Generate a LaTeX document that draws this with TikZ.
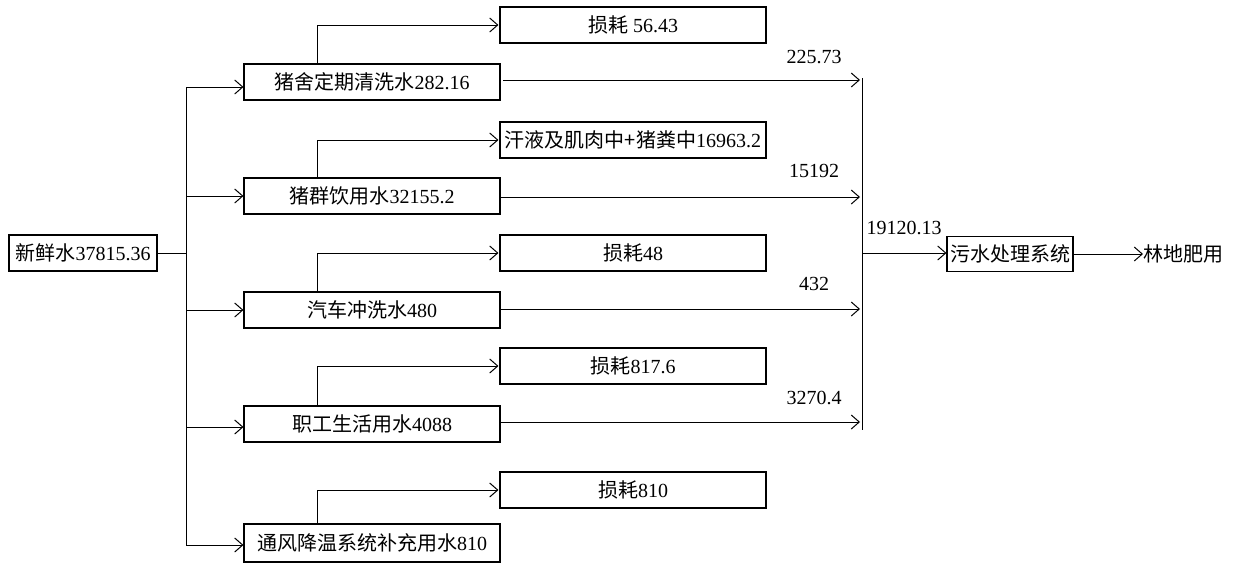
\documentclass[tikz,border=0pt]{standalone}
\usepackage{fontspec}
\setmainfont{Liberation Serif}
\newfontfamily\cjk{Noto Sans CJK SC}
\usetikzlibrary{arrows.meta}
\begin{document}
\begin{tikzpicture}[x=1pt,y=-1pt,
  box/.style={draw, line width=1.1pt, inner sep=0pt, minimum height=36pt, font=\fontsize{20}{22}\selectfont},
  midbox/.style={box, minimum width=256pt},
  lossbox/.style={box, minimum width=266pt},
  ln/.style={line width=1pt},
  arr/.style={line width=1pt, -{Straight Barb[length=8pt,width=14pt,line width=1pt]}},
  lbl/.style={font=\fontsize{20}{22}\selectfont, inner sep=0pt}]
\useasboundingbox (0,0) rectangle (1238,563);

% source
\node[box, minimum width=148pt] (fresh) at (83,253) {{\cjk 新鲜水}37815.36};

% middle boxes
\node[midbox] (m1) at (372,82) {{\cjk 猪舍定期清洗水}282.16};
\node[midbox] (m2) at (372,196) {{\cjk 猪群饮用水}32155.2};
\node[midbox] (m3) at (372,310) {{\cjk 汽车冲洗水}480};
\node[midbox] (m4) at (372,424) {{\cjk 职工生活用水}4088};
\node[midbox, minimum height=38pt] (m5) at (372,543) {{\cjk 通风降温系统补充用水}810};

% loss boxes
\node[lossbox] (l1) at (633,25) {{\cjk 损耗}\ 56.43};
\node[lossbox] (l2) at (633,140) {{\cjk 汗液及肌肉中+猪粪中}16963.2};
\node[lossbox] (l3) at (633,253) {{\cjk 损耗}48};
\node[lossbox] (l4) at (633,366) {{\cjk 损耗}817.6};
\node[lossbox] (l5) at (633,490) {{\cjk 损耗}810};

% sewage
\node[box, minimum width=126pt, minimum height=35pt] (sew) at (1010,254) {\cjk 污水处理系统};
\node[lbl, anchor=west] (use) at (1143,254) {\cjk 林地肥用};

% bus coordinates
\coordinate (b0) at (186,253);
\coordinate (btop) at (186,87);
\coordinate (bbot) at (186,545);
\coordinate (b1) at (186,87);
\coordinate (b2) at (186,196);
\coordinate (b3) at (186,310);
\coordinate (b4) at (186,427);
\coordinate (b5) at (186,545);

\draw[ln] (fresh.east) -- (b0);
\draw[ln] (btop) -- (bbot);
\foreach \i in {1,...,5} {
  \draw[arr] (b\i) -- (b\i -| m\i.west);
}

% loss branches
\foreach \i in {1,...,5} {
  \draw[arr] ([xshift=-55pt]m\i.north) |- ([xshift=-1pt]l\i.west);
}

% collector
\coordinate (ctop) at (862,78);
\coordinate (cbot) at (862,430);
\coordinate (cmid) at (862,253);
\draw[ln] (ctop) -- (cbot);
\coordinate (r1) at (503,80);
\coordinate (r2) at (500,197);
\coordinate (r3) at (500,309);
\coordinate (r4) at (500,422);
\foreach \i in {1,...,4} {
  \draw[arr] (r\i) -- ([xshift=-2pt]r\i -| ctop);
}
\node[lbl] (t1) at (814,57) {225.73};
\node[lbl] (t2) at (814,171) {15192};
\node[lbl] (t3) at (814,284) {432};
\node[lbl] (t4) at (814,398) {3270.4};

\draw[arr] (cmid) -- (cmid -| sew.west);
\node[lbl] (t5) at (904,228) {19120.13};
\draw[arr] (sew.east) -- (use.west);
\end{tikzpicture}
\end{document}
